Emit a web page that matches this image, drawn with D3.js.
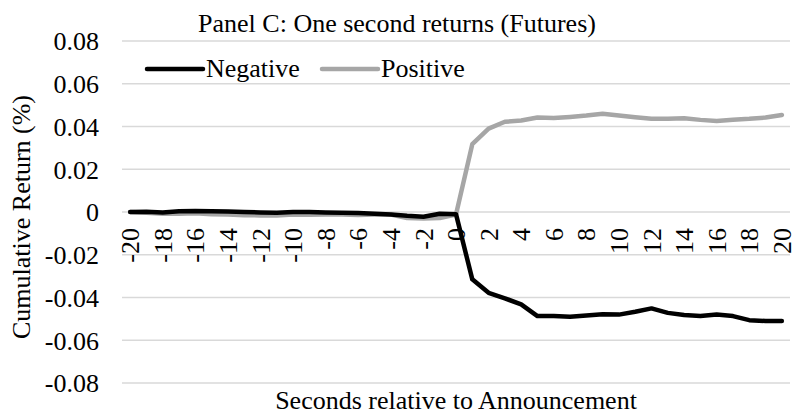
<!DOCTYPE html>
<html>
<head>
<meta charset="utf-8">
<script src="https://cdn.jsdelivr.net/npm/d3@7"></script>
<style>
  body { margin: 0; background: #fff; }
  text { font-family: "Liberation Serif", "Times New Roman", serif; fill: #000; }
</style>
</head>
<body>
<div id="chart"></div>
<script>
// Seconds relative to the announcement
const seconds = d3.range(-20, 21);

// Cumulative returns (%)
const negative = [
  0.0000, 0.0001, -0.0002, 0.0003, 0.0005, 0.0003, 0.0002, 0.0000, -0.0002, -0.0003,
  0.0000, 0.0000, -0.0002, -0.0003, -0.0005, -0.0008, -0.0012, -0.0018, -0.0022, -0.0008,
  -0.0010,
  -0.0315, -0.0378, -0.0404, -0.0432, -0.0487, -0.0487, -0.0490, -0.0484, -0.0478, -0.0480,
  -0.0467, -0.0451, -0.0472, -0.0482, -0.0487, -0.0480, -0.0487, -0.0506, -0.0510, -0.0510
];
const positive = [
  0.0000, -0.0003, -0.0008, -0.0008, -0.0006, -0.0010, -0.0012, -0.0015, -0.0016, -0.0016,
  -0.0012, -0.0013, -0.0012, -0.0012, -0.0014, -0.0012, -0.0012, -0.0028, -0.0030, -0.0028,
  -0.0012,
  0.0317, 0.0390, 0.0422, 0.0428, 0.0442, 0.0440, 0.0445, 0.0451, 0.0460, 0.0451,
  0.0443, 0.0436, 0.0436, 0.0439, 0.0431, 0.0426, 0.0432, 0.0436, 0.0442, 0.0454
];
const yTicks = [-0.08, -0.06, -0.04, -0.02, 0, 0.02, 0.04, 0.06, 0.08];
const yTickLabels = ["-0.08", "-0.06", "-0.04", "-0.02", "0", "0.02", "0.04", "0.06", "0.08"];

const series = [
  { name: "Negative", values: negative, color: "#000000" },
  { name: "Positive", values: positive, color: "#a6a6a6" }
];

const width = 794, height = 414;
const margin = { top: 41, right: 4, bottom: 31, left: 122 };
const fontSize = "26px";

const svg = d3.select("#chart")
    .append("svg")
    .attr("width", width)
    .attr("height", height);

const x = d3.scalePoint()
    .domain(seconds)
    .range([margin.left, width - margin.right])
    .padding(0.5);

const y = d3.scaleLinear()
    .domain([-0.08, 0.08])
    .range([height - margin.bottom, margin.top]);

// Gridlines
svg.append("g")
    .selectAll("line")
    .data(yTicks)
    .enter()
    .append("line")
    .attr("x1", margin.left)
    .attr("x2", width - margin.right)
    .attr("y1", d => y(d))
    .attr("y2", d => y(d))
    .attr("stroke", "#d9d9d9")
    .attr("stroke-width", 1.3);

// Y axis labels
const yAxis = svg.append("g")
    .attr("transform", "translate(" + (margin.left - 23) + ",0)")
    .call(d3.axisLeft(y).tickValues(yTicks).tickSize(0).tickPadding(0)
        .tickFormat((d, i) => yTickLabels[i]));
yAxis.select(".domain").remove();
yAxis.selectAll("text")
    .style("font-family", "'Liberation Serif', serif")
    .style("font-size", fontSize)
    .attr("dy", "0.34em");

// X axis labels along the zero line, rotated
const xAxis = svg.append("g")
    .attr("transform", "translate(0," + y(0) + ")")
    .call(d3.axisBottom(x).tickSize(0)
        .tickValues(seconds.filter(d => d % 2 === 0))
        .tickFormat(d => String(d)));
xAxis.select(".domain").remove();
xAxis.selectAll("text")
    .style("font-family", "'Liberation Serif', serif")
    .style("font-size", fontSize)
    .attr("transform", "rotate(-90)")
    .attr("text-anchor", "end")
    .attr("x", -16)
    .attr("y", 0)
    .attr("dy", "0.33em");

// Lines
const line = d3.line()
    .x((d, i) => x(seconds[i]))
    .y(d => y(d));

svg.selectAll(".series")
    .data(series.slice().reverse())
    .enter()
    .append("path")
    .attr("class", "series")
    .attr("fill", "none")
    .attr("stroke", d => d.color)
    .attr("stroke-width", 4.5)
    .attr("stroke-linejoin", "round")
    .attr("stroke-linecap", "round")
    .attr("d", d => line(d.values));

// Title
svg.append("text")
    .attr("x", 397)
    .attr("y", 32)
    .attr("text-anchor", "middle")
    .style("font-size", fontSize)
    .text("Panel C: One second returns (Futures)");

// Legend
const legend = svg.append("g");
const legendX = [147, 322];
series.forEach((s, i) => {
    legend.append("line")
        .attr("x1", legendX[i])
        .attr("x2", legendX[i] + 56)
        .attr("y1", 69)
        .attr("y2", 69)
        .attr("stroke", s.color)
        .attr("stroke-width", 4.5)
        .attr("stroke-linecap", "round");
    legend.append("text")
        .attr("x", legendX[i] + 59)
        .attr("y", 77)
        .style("font-size", fontSize)
        .text(s.name);
});

// Axis titles
svg.append("text")
    .attr("x", (margin.left + width - margin.right) / 2)
    .attr("y", 409)
    .attr("text-anchor", "middle")
    .style("font-size", fontSize)
    .text("Seconds relative to Announcement");

svg.append("text")
    .attr("transform", "rotate(-90)")
    .attr("x", -217)
    .attr("y", 30)
    .attr("text-anchor", "middle")
    .style("font-size", fontSize)
    .text("Cumulative Return (%)");
</script>
</body>
</html>
